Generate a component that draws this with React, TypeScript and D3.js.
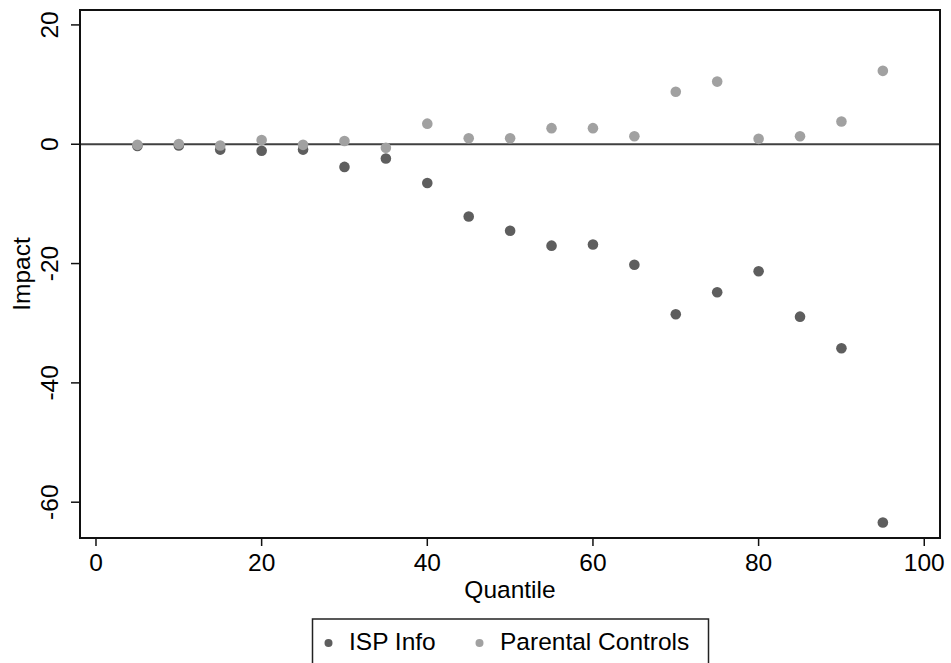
import React from "react";
import * as d3 from "d3";

const quantiles = [5, 10, 15, 20, 25, 30, 35, 40, 45, 50, 55, 60, 65, 70, 75, 80, 85, 90, 95];
const ispInfo = [-0.3, -0.2, -0.9, -1.1, -0.9, -3.8, -2.4, -6.5, -12.1, -14.5, -17.0, -16.8, -20.2, -28.5, -24.8, -21.3, -28.9, -34.2, -63.4];
const parentalControls = [-0.1, 0.05, -0.2, 0.7, -0.1, 0.55, -0.6, 3.45, 1.0, 1.0, 2.7, 2.7, 1.35, 8.8, 10.5, 0.9, 1.35, 3.8, 12.3];
const xTicks = [0, 20, 40, 60, 80, 100];
const yTicks = [20, 0, -20, -40, -60];
const seriesNames = ["ISP Info", "Parental Controls"];

const W = 951;
const H = 663;
const plot = { left: 80, right: 940, top: 10, bottom: 538 };
const FONT = "Arial, 'Liberation Sans', sans-serif";
const FS = 24.5;
const DARK = "#5e5e5e";
const LIGHT = "#a1a1a1";

export default function App() {
  const x = d3.scaleLinear().domain([-1.93, 101.9]).range([plot.left, plot.right]);
  const y = d3.scaleLinear().domain([22.5, -66]).range([plot.top, plot.bottom]);

  const series = [
    { name: seriesNames[0], values: ispInfo, color: DARK },
    { name: seriesNames[1], values: parentalControls, color: LIGHT },
  ];

  return (
    <svg
      width={W}
      height={H}
      style={{ position: "absolute", left: 0, top: 0, background: "#fff" }}
      fontFamily={FONT}
    >
      <rect x={0} y={0} width={W} height={H} fill="#fff" />

      {/* zero reference line */}
      <line x1={plot.left} x2={plot.right} y1={y(0)} y2={y(0)} stroke="#404040" strokeWidth={2} />

      {/* points */}
      {series.map((s) => (
        <g key={s.name}>
          {s.values.map((v, i) => (
            <circle key={i} cx={x(quantiles[i])} cy={y(v)} r={5.3} fill={s.color} />
          ))}
        </g>
      ))}

      {/* plot frame */}
      <rect
        x={plot.left}
        y={plot.top}
        width={plot.right - plot.left}
        height={plot.bottom - plot.top}
        fill="none"
        stroke="#111"
        strokeWidth={2}
      />

      {/* x axis */}
      {xTicks.map((t) => (
        <g key={t}>
          <line x1={x(t)} x2={x(t)} y1={plot.bottom} y2={plot.bottom + 8} stroke="#111" strokeWidth={1.5} />
          <text x={x(t)} y={571} textAnchor="middle" fontSize={FS} fill="#000">
            {t}
          </text>
        </g>
      ))}
      <text x={(plot.left + plot.right) / 2} y={597.5} textAnchor="middle" fontSize={FS} fill="#000">
        Quantile
      </text>

      {/* y axis */}
      {yTicks.map((t) => (
        <g key={t}>
          <line x1={plot.left - 9} x2={plot.left} y1={y(t)} y2={y(t)} stroke="#111" strokeWidth={1.5} />
          <text
            transform={`translate(58,${y(t)}) rotate(-90)`}
            textAnchor="middle"
            fontSize={FS}
            fill="#000"
          >
            {t}
          </text>
        </g>
      ))}
      <text
        transform={`translate(30,${(plot.top + plot.bottom) / 2}) rotate(-90)`}
        textAnchor="middle"
        fontSize={FS}
        fill="#000"
      >
        Impact
      </text>

      {/* legend */}
      <rect x={312.5} y={619} width={396} height={60} fill="#fff" stroke="#222" strokeWidth={1.5} />
      <circle cx={328.5} cy={643} r={4} fill={DARK} />
      <text x={349} y={650} fontSize={FS} fill="#000">
        {seriesNames[0]}
      </text>
      <circle cx={479.5} cy={643} r={4} fill={LIGHT} />
      <text x={500} y={650} fontSize={FS} fill="#000">
        {seriesNames[1]}
      </text>
    </svg>
  );
}
